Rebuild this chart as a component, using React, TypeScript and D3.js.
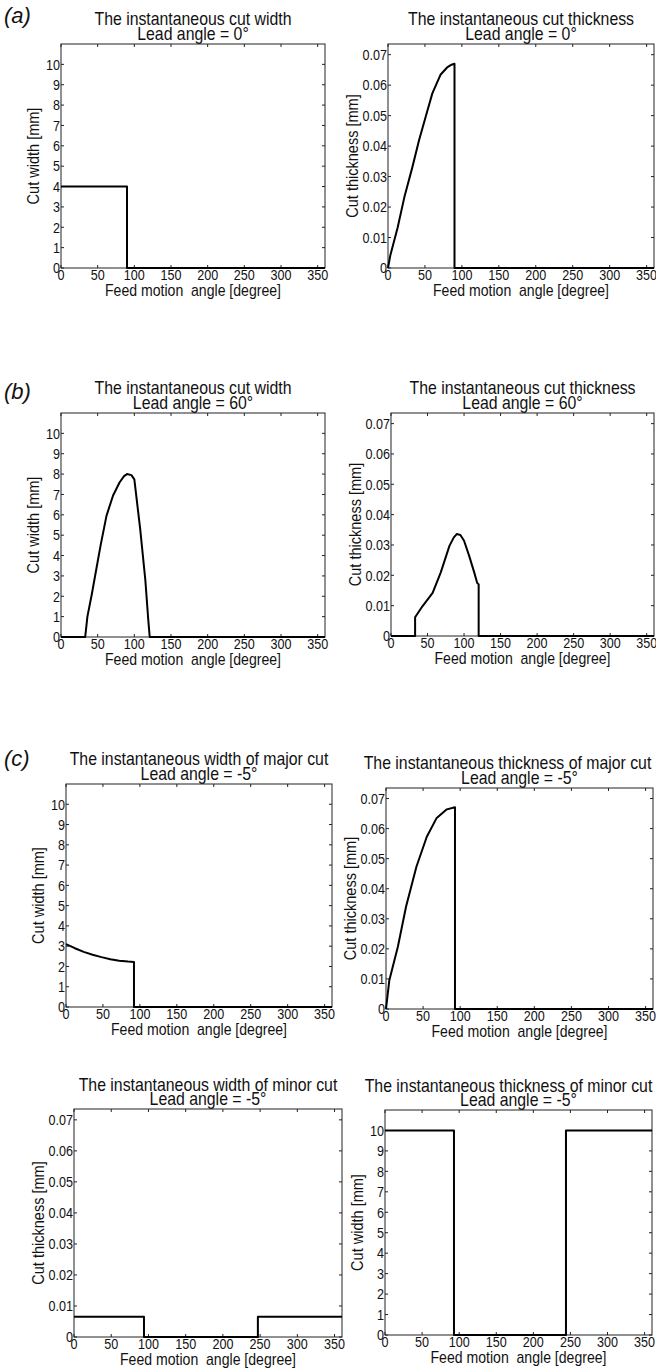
import React from 'react';
import * as d3 from 'd3';

// axis ticks
const xTicks = [0, 50, 100, 150, 200, 250, 300, 350];
const widthTicks = [0, 1, 2, 3, 4, 5, 6, 7, 8, 9, 10];
const thicknessTicks = [0, 0.01, 0.02, 0.03, 0.04, 0.05, 0.06, 0.07];

// (a) lead angle 0
const aWidthAngle = [0, 90, 90, 360];
const aWidthValue = [4, 4, 0, 0];
const aThickAngle = [0, 3, 7, 13, 22, 33, 42, 51, 60, 71, 80, 86, 90, 90, 360];
const aThickValue = [0, 0.004, 0.0077, 0.0132, 0.0231, 0.0331, 0.0419, 0.0496, 0.0573, 0.0634, 0.0658, 0.0667, 0.067, 0, 0];

// (b) lead angle 60
const bWidthAngle = [0, 33, 36, 42, 48, 54, 62, 71, 80, 86, 90, 96, 100, 108, 115, 119, 121, 360];
const bWidthValue = [0, 0, 1, 2.1, 3.3, 4.5, 5.95, 6.95, 7.6, 7.9, 8.0, 7.95, 7.74, 5.3, 2.8, 0.84, 0, 0];
const bThickAngle = [0, 33, 33, 43, 57, 68, 80, 86, 90, 95, 100, 107, 114, 118, 120, 120, 360];
const bThickValue = [0, 0, 0.0062, 0.0098, 0.0142, 0.0209, 0.0297, 0.0325, 0.0336, 0.0333, 0.0314, 0.0264, 0.0209, 0.0175, 0.017, 0, 0];

// (c) lead angle -5, major cut
const cWidthAngle = [0, 12, 24, 36, 48, 60, 72, 84, 92, 92, 360];
const cWidthValue = [3.1, 2.9, 2.72, 2.58, 2.46, 2.36, 2.28, 2.24, 2.22, 0, 0];
const cThickAngle = [0, 4.5, 16, 27, 41, 55, 68, 82, 93, 93, 360];
const cThickValue = [0, 0.0096, 0.0207, 0.034, 0.0473, 0.0573, 0.0634, 0.0664, 0.0671, 0, 0];

// (c) lead angle -5, minor cut
const dThickAngle = [0, 94, 94, 247, 247, 360];
const dThickValue = [0.0065, 0.0065, 0, 0, 0.0065, 0.0065];
const dWidthAngle = [0, 93, 93, 244, 244, 360];
const dWidthValue = [10, 10, 0, 0, 10, 10];

const FONT = '"Liberation Sans", Arial, Helvetica, sans-serif';
const SX = 0.88;

type Kind = 'width' | 'thickness';
interface PanelDef {
  box: [number, number, number, number];
  kind: Kind;
  title: string;
  lead: string;
  angle: number[];
  value: number[];
  titleDx?: number;
  gap?: number;
}

const panels: PanelDef[] = [
  { box: [61, 325, 44, 268], kind: 'width', title: 'The instantaneous cut width', lead: 'Lead angle = 0°', angle: aWidthAngle, value: aWidthValue },
  { box: [388, 654, 44, 268], kind: 'thickness', title: 'The instantaneous cut thickness', lead: 'Lead angle = 0°', angle: aThickAngle, value: aThickValue },
  { box: [61, 325, 413, 637], kind: 'width', title: 'The instantaneous cut width', lead: 'Lead angle = 60°', angle: bWidthAngle, value: bWidthValue },
  { box: [391, 654, 413, 636], kind: 'thickness', title: 'The instantaneous cut thickness', lead: 'Lead angle = 60°', angle: bThickAngle, value: bThickValue },
  { box: [66, 332, 784, 1007], kind: 'width', title: 'The instantaneous width of major cut', lead: 'Lead angle = -5°', angle: cWidthAngle, value: cWidthValue },
  { box: [386, 653, 788, 1009], kind: 'thickness', title: 'The instantaneous thickness of major cut', lead: 'Lead angle = -5°', angle: cThickAngle, value: cThickValue, titleDx: -12 },
  { box: [74, 342, 1109, 1337], kind: 'thickness', title: 'The instantaneous width of minor cut', lead: 'Lead angle = -5°', angle: dThickAngle, value: dThickValue, gap: 14 },
  { box: [385, 652, 1110, 1335], kind: 'width', title: 'The instantaneous thickness of minor cut', lead: 'Lead angle = -5°', angle: dWidthAngle, value: dWidthValue, titleDx: -10, gap: 14 },
];

const letters = [
  { label: 'a', y: 23 },
  { label: 'b', y: 399 },
  { label: 'c', y: 766 },
];

function T(props: { x: number; y: number; size: number; anchor?: string; rot?: boolean; dy?: string; sx?: number; italic?: boolean; children: React.ReactNode }) {
  const { x, y, size, anchor = 'middle', rot, dy, sx = SX, italic } = props;
  return (
    <text
      transform={`translate(${x},${y})${rot ? ' rotate(-90)' : ''} scale(${sx},1)`}
      fontSize={size}
      textAnchor={anchor}
      dy={dy}
      fontStyle={italic ? 'italic' : undefined}
      fill="#111"
    >
      {props.children}
    </text>
  );
}

function Panel({ p }: { p: PanelDef }) {
  const [x0, x1, y0, y1] = p.box;
  const isW = p.kind === 'width';
  const x = d3.scaleLinear().domain([0, 360]).range([x0, x1]);
  const y = d3.scaleLinear().domain([0, isW ? 11 : 0.0735]).range([y1, y0]);
  const yTicks = isW ? widthTicks : thicknessTicks;
  const fmt = (v: number) => (isW ? d3.format('d')(v) : v === 0 ? '0' : d3.format('.2f')(v));
  const line = d3.line<number>()
    .x((_, i) => x(p.angle[i]))
    .y(d => y(d));
  const cx = (x0 + x1) / 2;
  const gap = p.gap ?? 15;
  const tl = 3;
  return (
    <g>
      {/* title */}
      <T x={cx + (p.titleDx ?? 0)} y={y0 - 4 - gap} size={18}>{p.title}</T>
      <T x={cx} y={y0 - 4} size={18}>{p.lead}</T>
      {/* box */}
      <rect x={x0} y={y0} width={x1 - x0} height={y1 - y0} fill="none" stroke="#222" strokeWidth={1} />
      {/* x ticks */}
      {xTicks.map(t => (
        <g key={'x' + t}>
          <line x1={x(t)} x2={x(t)} y1={y1} y2={y1 - tl} stroke="#222" />
          <line x1={x(t)} x2={x(t)} y1={y0} y2={y0 + tl} stroke="#222" />
          <T x={x(t)} y={y1 + 12} size={15} sx={0.84}>{String(t)}</T>
        </g>
      ))}
      {/* y ticks */}
      {yTicks.map(t => (
        <g key={'y' + t}>
          <line x1={x0} x2={x0 + tl} y1={y(t)} y2={y(t)} stroke="#222" />
          <line x1={x1} x2={x1 - tl} y1={y(t)} y2={y(t)} stroke="#222" />
          <T x={x0 - 1} y={y(t)} size={15} sx={0.84} anchor="end" dy="0.35em">{fmt(t)}</T>
        </g>
      ))}
      {/* data */}
      <path d={line(p.value) || ''} fill="none" stroke="#000" strokeWidth={2} strokeLinejoin="round" />
      {/* labels */}
      <T x={cx} y={y1 + 27.5} size={16}>{'Feed motion\u00a0\u00a0angle [degree]'}</T>
      <T x={x0 - (isW ? 28 : 36)} y={(y0 + y1) / 2} size={16.5} rot dy="0.35em">
        {isW ? 'Cut width [mm]' : 'Cut thickness [mm]'}
      </T>
    </g>
  );
}

export default function App() {
  return (
    <svg
      width={656}
      height={1368}
      style={{ position: 'absolute', left: 0, top: 0, background: '#fff', fontFamily: FONT }}
    >
      <rect width={656} height={1368} fill="#fff" />
      {letters.map(l => (
        <T key={l.label} x={4} y={l.y} size={22} anchor="start" sx={1} italic>{`(${l.label})`}</T>
      ))}
      {panels.map((p, i) => <Panel key={i} p={p} />)}
    </svg>
  );
}
